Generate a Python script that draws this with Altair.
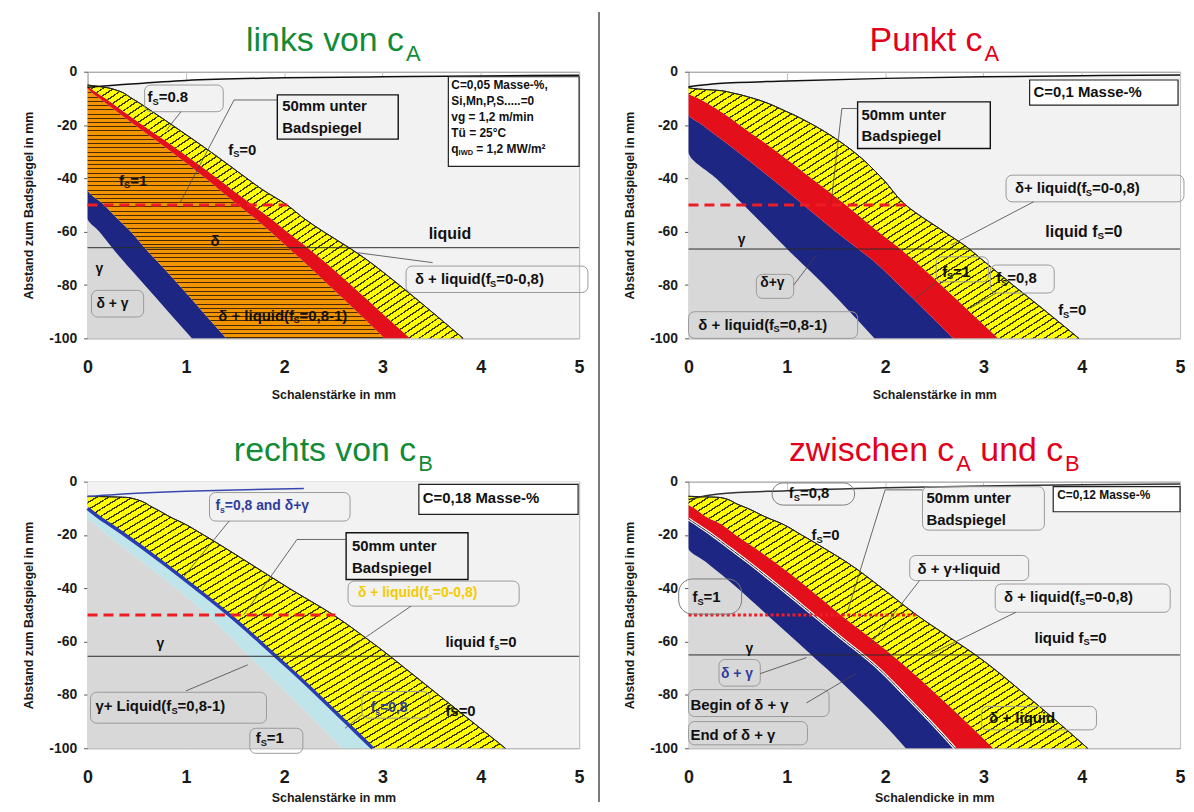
import altair as alt
import pandas as pd

FONT = "Liberation Sans"
PW, PH = 494, 268
XPU = PW / 5.0
YPU = PH / 100.0

# ---------------- data ----------------
TOP_X = [0, 0.3, 1, 2, 3, 4, 5]

# Panel 1 : links von cA  (C=0,05 %)
P1_DEPTH = [-5, -6, -7, -10, -15, -20, -30, -40, -44, -50, -55, -60, -66, -70, -80, -90, -100]
P1_GAMMA = [0, 0, 0, 0, 0, 0, 0, 0, 0, 0, 0, 0.12, 0.25, 0.34, 0.58, 0.82, 1.06]
P1_BLUE = [0, 0, 0, 0, 0, 0, 0, 0, 0, 0.17, 0.30, 0.44, 0.58, 0.68, 0.93, 1.17, 1.41]
P1_ORANGE = [0, 0, 0.02, 0.12, 0.30, 0.48, 0.85, 1.20, 1.33, 1.53, 1.70, 1.86, 2.04, 2.16, 2.45, 2.74, 3.02]
P1_RED = [0, 0.02, 0.06, 0.18, 0.37, 0.56, 0.95, 1.32, 1.46, 1.68, 1.86, 2.03, 2.24, 2.37, 2.68, 2.98, 3.28]
P1_YELLOW = [0, 0.20, 0.30, 0.45, 0.66, 0.86, 1.25, 1.62, 1.77, 2.03, 2.20, 2.40, 2.66, 2.82, 3.17, 3.50, 3.82]
P1_TOP = [-5.8, -5.0, -3.3, -2.3, -1.9, -1.6, -1.3]

# Panel 2 : Punkt cA (C=0,1 %)
P2_DEPTH = [-6, -6.5, -7, -8, -10, -15, -16, -20, -30, -40, -50, -60, -66, -70, -80, -90, -100]
P2_GAMMA = [0, 0, 0, 0, 0, 0, 0, 0, 0, 0.28, 0.56, 0.83, 0.99, 1.10, 1.38, 1.64, 1.89]
P2_BLUE = [0, 0, 0, 0, 0, 0, 0, 0.14, 0.50, 0.84, 1.17, 1.50, 1.71, 1.85, 2.14, 2.42, 2.69]
P2_RED = [0, 0, 0, 0, 0.10, 0.33, 0.37, 0.52, 0.90, 1.25, 1.60, 1.93, 2.14, 2.27, 2.57, 2.86, 3.15]
P2_YELLOW = [0, 0.10, 0.30, 0.45, 0.66, 1.00, 1.06, 1.27, 1.68, 1.97, 2.21, 2.60, 2.84, 2.97, 3.30, 3.64, 3.97]
P2_TOP = [-5.6, -4.4, -3.5, -2.5, -1.9, -1.5, -1.25]

# Panel 3 : rechts von cB (C=0,18 %)
P3_DEPTH = [-5.5, -6, -10, -14, -15, -20, -30, -40, -50, -60, -65, -70, -80, -90, -100]
P3_GAMMA = [0, 0, 0, 0, 0.04, 0.20, 0.55, 0.90, 1.22, 1.50, 1.63, 1.77, 2.05, 2.32, 2.59]
P3_BLUE = [0, 0, 0, 0.14, 0.18, 0.38, 0.75, 1.10, 1.44, 1.75, 1.90, 2.05, 2.34, 2.62, 2.90]
P3_YELLOW = [0, 0.42, 0.68, 0.88, 0.94, 1.18, 1.62, 2.05, 2.50, 2.88, 3.06, 3.23, 3.57, 3.91, 4.25]
P3_TOP_X = [0, 0.5, 1, 1.5, 2.2]
P3_TOP = [-5.6, -4.4, -3.6, -3.1, -2.6]

# Panel 4 : zwischen cA und cB (C=0,12 %)
P4_DEPTH = [-5.5, -6, -8.5, -10, -14, -15, -20, -25, -30, -40, -50, -60, -65, -70, -80, -90, -100]
P4_GAMMA = [0, 0, 0, 0, 0, 0, 0, 0, 0.17, 0.50, 0.80, 1.10, 1.25, 1.40, 1.69, 1.96, 2.21]
P4_BLUE = [0, 0, 0, 0, 0, 0.04, 0.24, 0.42, 0.60, 0.94, 1.27, 1.60, 1.77, 1.93, 2.20, 2.46, 2.71]
P4_RED = [0, 0, 0, 0.06, 0.22, 0.28, 0.48, 0.68, 0.87, 1.22, 1.55, 1.90, 2.07, 2.23, 2.53, 2.82, 3.10]
P4_YELLOW = [0, 0.33, 0.50, 0.60, 0.83, 0.90, 1.15, 1.38, 1.60, 1.97, 2.32, 2.72, 2.92, 3.10, 3.43, 3.75, 4.06]
P4_TOP = [-6.7, -4.6, -3.4, -2.3, -1.6, -1.2, -0.9]

HLINE = [-66, -66.5, -65.5, -65]          # horizontal reference line
MARK_END = [2.03, 2.21, 2.52, 2.31]       # end of the 50 mm marker line

K = "#111111"
BLUE_TXT = "#2e3c9e"
YEL_TXT = "#f2cc00"

# labels: (x, y, text, size, color)
P1_LABELS = [
    (0.61, -9.5, "f_S=0.8", 15, K), (1.98, -13.0, "50mm unter", 15, K), (1.98, -21.2, "Badspiegel", 15, K),
    (3.70, -5.0, "C=0,05 Masse-%,", 12, K), (3.70, -11.0, "Si,Mn,P,S.....=0", 12, K),
    (3.70, -17.0, "vg = 1,2 m/min", 12, K), (3.70, -23.0, "Tü = 25°C", 12, K),
    (3.70, -29.0, "q_{IWD} = 1,2 MW/m²", 12, K), (1.43, -29.3, "f_S=0", 15, K), (0.32, -41.0, "f_S=1", 15, K),
    (3.47, -61.0, "liquid", 16, K), (1.25, -63.5, "δ", 15, K), (0.08, -74.0, "γ", 14, K),
    (0.09, -87.0, "δ + γ", 14, K), (1.33, -91.5, "δ + liquid(f_S=0,8-1)", 15, K),
    (3.33, -77.8, "δ + liquid(f_S=0-0,8)", 15, K),
]
P1_BOXES = [
    (0.58, 1.38, -5.0, -15.0, "round"), (1.93, 3.16, -8.7, -25.3, "square"), (3.67, 5.0, -1.9, -35.5, "info"),
    (0.04, 0.57, -82.0, -92.0, "round"), (3.24, 5.09, -72.9, -82.8, "round"),
]
P1_LEADERS = [(1.93, -10.6, 1.49, -10.6), (1.49, -10.6, 0.94, -49.2), (3.51, -71.6, 2.75, -67.9),
              (0.95, -15.0, 0.80, -22.0)]

P2_LABELS = [
    (3.51, -7.5, "C=0,1 Masse-%", 15, K), (1.76, -16.3, "50mm unter", 15, K), (1.76, -24.1, "Badspiegel", 15, K),
    (3.32, -43.8, "δ+ liquid(f_S=0-0,8)", 15, K), (3.63, -60.0, "liquid f_S=0", 16, K), (0.50, -63.0, "γ", 14, K),
    (2.58, -75.0, "f_S=1", 15, K), (3.13, -77.5, "f_S=0,8", 15, K), (3.76, -89.4, "f_S=0", 15, K),
    (0.73, -79.4, "δ+γ", 14, K), (0.10, -95.0, "δ + liquid(f_S=0,8-1)", 15, K),
]
P2_BOXES = [
    (3.47, 4.98, -3.1, -12.5, "info"), (1.72, 3.07, -11.3, -28.8, "square"), (3.23, 5.04, -38.8, -48.8, "round"),
    (2.52, 3.05, -69.4, -78.8, "round"), (3.07, 3.72, -72.5, -83.0, "round"), (0.69, 1.07, -76.0, -85.0, "round"),
    (0.0, 1.72, -90.0, -100.0, "round"),
]
P2_LEADERS = [(1.72, -13.8, 1.56, -13.8), (1.56, -13.8, 1.45, -49.4), (3.51, -48.8, 2.67, -65.0),
              (2.52, -78.8, 2.29, -85.6), (3.13, -83.0, 2.86, -88.8), (1.07, -80.0, 1.30, -68.8)]

P3_LABELS = [
    (3.41, -6.0, "C=0,18 Masse-%", 15, K), (1.30, -9.1, "f_s=0,8 and δ+γ", 14, BLUE_TXT),
    (2.69, -24.2, "50mm unter", 15, K), (2.69, -32.3, "Badspiegel", 15, K),
    (2.75, -41.7, "δ + liquid(f_s=0-0,8)", 14, YEL_TXT), (3.64, -60.2, "liquid f_s=0", 15, K),
    (0.70, -61.0, "γ", 14, K), (0.08, -84.3, "γ+ Liquid(f_S=0,8-1)", 15, K), (1.71, -96.2, "f_S=1", 15, K),
    (2.88, -84.9, "f_s=0,8", 14, BLUE_TXT), (3.64, -86.2, "fs=0", 15, K),
]
P3_BOXES = [
    (3.37, 4.99, -1.0, -12.3, "info"), (1.24, 2.67, -4.1, -14.8, "round"), (2.63, 3.87, -19.2, -36.7, "square"),
    (2.65, 4.39, -37.3, -46.7, "round"), (0.03, 1.82, -79.0, -90.6, "round"), (1.65, 2.19, -92.5, -101.9, "round"),
    (2.79, 3.48, -78.7, -88.7, "round"),
]
P3_LEADERS = [(1.44, -14.8, 0.97, -36.0), (2.63, -21.7, 2.13, -21.7), (2.13, -21.7, 1.59, -49.9),
              (3.29, -46.7, 2.56, -65.2), (1.00, -78.5, 1.63, -68.7), (2.79, -87.5, 2.62, -92.5)]

P4_LABELS = [
    (1.02, -4.4, "f_S=0,8", 15, K), (1.25, -20.1, "f_S=0", 15, K), (2.42, -6.3, "50mm unter", 15, K),
    (2.42, -14.5, "Badspiegel", 15, K), (3.75, -5.0, "C=0,12 Masse-%", 12, K),
    (2.33, -32.7, "δ + γ+liquid", 15, K), (3.21, -43.4, "δ + liquid(f_S=0-0,8)", 15, K),
    (3.52, -58.5, "liquid f_S=0", 15, K), (0.04, -43.4, "f_S=1", 15, K), (0.58, -62.9, "γ", 14, K),
    (0.33, -72.3, "δ + γ", 14, BLUE_TXT), (0.02, -83.6, "Begin of δ + γ", 15, K),
    (0.02, -95.0, "End of δ + γ", 15, K), (3.06, -88.7, "δ + liquid", 15, K),
]
P4_BOXES = [
    (0.85, 1.69, -0.5, -8.8, "oval"), (2.38, 3.62, -1.9, -18.2, "round"), (3.71, 5.0, -1.9, -11.3, "info"),
    (2.25, 3.46, -27.7, -37.1, "round"), (3.12, 4.90, -38.4, -49.0, "round"), (-0.10, 0.54, -36.5, -49.7, "oval"),
    (0.31, 0.73, -66.7, -76.7, "round"), (0.0, 1.43, -78.0, -88.1, "round"), (0.0, 1.21, -90.0, -98.7, "round"),
    (2.98, 4.15, -84.3, -93.1, "round"),
]
P4_LEADERS = [(2.38, -3.1, 2.00, -3.1), (2.00, -3.1, 1.62, -48.4), (2.35, -37.1, 1.85, -61.0),
              (3.33, -49.0, 2.46, -64.7), (0.73, -72.0, 1.20, -66.0), (1.20, -83.0, 1.70, -72.0)]

TITLES = [
    ([("links von c", False), ("A", True)], "#138a36"),
    ([("Punkt c", False), ("A", True)], "#e2001a"),
    ([("rechts von c", False), ("B", True)], "#138a36"),
    ([("zwischen c", False), ("A", True), (" und c", False), ("B", True)], "#e2001a"),
]

# ---------------- styling helpers ----------------
YEL = "#ffff00"
RED = "#e3101b"
BLU = "#1d2683"
ORA = "#f29400"
GRY = "#d8d8d8"
CYA = "#bfe5eb"
LIQ = "#f2f2f2"

BW = {' ': 278, '%': 889, '(': 333, ')': 333, '+': 584, ',': 278, '-': 333, '.': 278, '/': 278, '=': 584,
      '°': 400, '²': 333, 'A': 722, 'B': 722, 'C': 722, 'D': 722, 'E': 667, 'I': 278, 'L': 611, 'M': 833,
      'N': 722, 'P': 667, 'S': 667, 'T': 611, 'W': 944, 'a': 556, 'b': 611, 'c': 556, 'd': 611, 'e': 556,
      'f': 333, 'g': 611, 'h': 611, 'i': 278, 'k': 556, 'l': 278, 'm': 889, 'n': 611, 'o': 611, 'p': 611,
      'q': 611, 'r': 389, 's': 556, 't': 333, 'u': 611, 'v': 556, 'w': 778, 'z': 500, 'ü': 611, 'ä': 556,
      'δ': 560, 'γ': 560}
RW = {' ': 278, 'A': 667, 'B': 667, 'P': 667, 'c': 500, 'd': 556, 'e': 556, 'h': 556, 'i': 222, 'k': 500,
      'l': 222, 'n': 556, 'o': 556, 'r': 333, 's': 500, 't': 278, 'u': 556, 'v': 500, 'w': 722, 'z': 500}


def text_w(s, size, bold=True):
    tbl = BW if bold else RW
    return sum(tbl.get(ch, 556) for ch in s) / 1000.0 * size


def segs(s):
    out, buf, i = [], "", 0
    while i < len(s):
        if s[i] == "_":
            if buf:
                out.append((buf, False))
                buf = ""
            if s[i + 1] == "{":
                j = s.index("}", i)
                out.append((s[i + 2:j], True))
                i = j + 1
            else:
                out.append((s[i + 1], True))
                i += 2
        else:
            buf += s[i]
            i += 1
    if buf:
        out.append((buf, False))
    return out


def label_rows(labels):
    rows = []
    for x, y, text, size, color in labels:
        cx = 0.0
        for seg, sub in segs(text):
            fs = size * 0.62 if sub else size
            dy = size * 0.3 if sub else 0
            lead = len(seg) - len(seg.lstrip(" "))
            rows.append(dict(x=x + (cx + lead * 0.278 * fs) / XPU, y=y - dy / YPU,
                             t=seg.lstrip(" "), s=fs, c=color))
            cx += text_w(seg, fs)
    return pd.DataFrame(rows)


def stripes(c1, c2, n, frac, x2, y2):
    stops = []
    for i in range(n):
        a, b, c = i / n, (i + 1 - frac) / n, (i + 1) / n
        stops += [alt.GradientStop(color=c1, offset=a), alt.GradientStop(color=c1, offset=b),
                  alt.GradientStop(color=c2, offset=b), alt.GradientStop(color=c2, offset=c)]
    return alt.LinearGradient(gradient="linear", stops=stops, x1=0, y1=0, x2=x2, y2=y2)


YEL_FILL = stripes(YEL, "#3a3a00", 70, 0.22, 1, 1)
ORA_FILL = stripes(ORA, "#4a2a00", 60, 0.25, 0, 1)

XS = alt.Scale(domain=[0, 5], nice=False, zero=False)
YS = alt.Scale(domain=[-100, 0], nice=False, zero=False)
ONE = pd.DataFrame({"k": [0]})


def axes(xtitle, bottom):
    xa = alt.Axis(values=[0, 1, 2, 3, 4, 5], format="d", title=xtitle, grid=True, gridColor="#c4c4c4",
                  domain=False, ticks=True, tickSize=0, labelFont=FONT, labelFontSize=18,
                  labelFontWeight="bold", labelColor="#1a1a1a", labelPadding=20, labelFlush=False,
                  labelOverlap=False, titleFont=FONT, titleFontSize=12.5, titleFontWeight="bold",
                  titleColor="#1a1a1a", titleX=PW / 2, titleY=(50 if bottom else 56), titleAlign="center",
                  titleBaseline="middle")
    ya = alt.Axis(values=[0, -20, -40, -60, -80, -100],
                  labelExpr="datum.value < 0 ? '-' + format(-datum.value, 'd') : '0'",
                  title="Abstand zum Badspiegel in mm", grid=False, domain=False, tickSize=4,
                  tickColor="#555555", labelFont=FONT, labelFontSize=14, labelFontWeight="bold",
                  labelColor="#1a1a1a", labelPadding=7, labelOverlap=False, titleFont=FONT,
                  titleFontSize=12.5, titleFontWeight="bold", titleColor="#1a1a1a", titleAngle=270,
                  titleX=-59, titleY=PH / 2, titleAlign="center", titleBaseline="middle")
    return xa, ya


def panel(P):
    xa, ya = axes(P["xtitle"], P["bottom"])

    def X(f):
        return alt.X(f, type="quantitative", scale=XS, axis=xa)

    def Y(f):
        return alt.Y(f, type="quantitative", scale=YS, axis=ya)

    n = len(P["depth"])
    ddf = pd.DataFrame({"d": P["depth"], "zero": [0.0] * n, **P["bounds"]})
    layers = []
    liq = pd.DataFrame({"x": P["liq_x"], "y": P["liq_y"], "b": [-100] * len(P["liq_x"])})
    layers.append(alt.Chart(liq).mark_area(orient="vertical", interpolate="monotone", fill=LIQ)
                  .encode(x=X("x"), y=Y("y"), y2=alt.Y2("b")))
    for lo, hi, fill in P["bands"]:
        layers.append(alt.Chart(ddf).mark_area(orient="horizontal", interpolate="monotone", fill=fill)
                      .encode(y=Y("d"), x=X(lo), x2=alt.X2(hi)))
    for f, col, w, dash in P["edges"]:
        vals = P["bounds"][f]
        start = max(i for i, v in enumerate(vals) if v == 0)
        sub = ddf.iloc[start:]
        mk = dict(orient="horizontal", interpolate="monotone", fillOpacity=0, stroke=col, strokeWidth=w)
        if dash:
            mk["strokeDash"] = dash
        layers.append(alt.Chart(sub).mark_area(**mk).encode(y=Y("d"), x=X(f), x2=alt.X2(f)))
    top = pd.DataFrame({"x": P["top_x"], "y": P["top_y"]})
    layers.append(alt.Chart(top).mark_line(interpolate="monotone", stroke=P["top_col"], strokeWidth=1.5)
                  .encode(x=X("x"), y=Y("y")))
    hl = pd.DataFrame({"x0": [0], "x1": [5], "y": [P["hline"]]})
    layers.append(alt.Chart(hl).mark_rule(stroke="#2a2a2a", strokeWidth=1)
                  .encode(x=X("x0"), x2=alt.X2("x1"), y=Y("y")))
    mk = pd.DataFrame({"x0": [0], "x1": [P["mark_end"]], "y": [-50]})
    layers.append(alt.Chart(mk).mark_rule(stroke="#ee1c24", strokeWidth=3, strokeDash=P["mark_dash"])
                  .encode(x=X("x0"), x2=alt.X2("x1"), y=Y("y")))
    bdf = pd.DataFrame(P["boxes"], columns=["x1", "x2", "y1", "y2", "kind"])
    styles = {
        "round": dict(fillOpacity=0, stroke="#9a9a9a", strokeWidth=1, cornerRadius=6),
        "oval": dict(fillOpacity=0, stroke="#7a7a7a", strokeWidth=1, cornerRadius=14),
        "square": dict(fillOpacity=0, stroke="#111111", strokeWidth=1.4),
        "info": dict(fill="#ffffff", stroke="#222222", strokeWidth=1.2),
    }
    for kind, st in styles.items():
        part = bdf[bdf.kind == kind]
        if len(part):
            layers.append(alt.Chart(part).mark_rect(**st)
                          .encode(x=X("x1"), x2=alt.X2("x2"), y=Y("y1"), y2=alt.Y2("y2")))
    ldf = pd.DataFrame(P["leaders"], columns=["xa", "ya", "xb", "yb"])
    layers.append(alt.Chart(ldf).mark_rule(stroke="#444444", strokeWidth=0.8)
                  .encode(x=X("xa"), y=Y("ya"), x2=alt.X2("xb"), y2=alt.Y2("yb")))
    tdf = label_rows(P["labels"])
    layers.append(alt.Chart(tdf).mark_text(align="left", baseline="middle", font=FONT, fontWeight="bold")
                  .encode(x=X("x"), y=Y("y"), text="t:N", size=alt.Size("s:Q", scale=None),
                          color=alt.Color("c:N", scale=None)))
    # title
    parts, tcol = P["title"]
    items, total = [], 0.0
    for s, sub in parts:
        fs = 22 if sub else 34
        gap = 2 if sub else 0
        lead = len(s) - len(s.lstrip(" "))
        w = text_w(s, fs, bold=False) + gap
        items.append((s.lstrip(" "), fs, sub, lead * 0.278 * fs + gap, w))
        total += w
    x = PW / 2 - total / 2
    for s, fs, sub, off, w in items:
        layers.append(alt.Chart(ONE).mark_text(text=s, font=FONT, fontSize=fs, color=tcol, align="left",
                                               baseline="alphabetic")
                      .encode(x=alt.value(x + off), y=alt.value(-11 if sub else -21)))
        x += w
    if P.get("divider"):
        layers.append(alt.Chart(ONE).mark_rule(stroke="#7a7a7a", strokeWidth=2)
                      .encode(x=alt.value(514), x2=alt.value(514), y=alt.value(-60), y2=alt.value(734)))
        layers.append(alt.Chart(ONE).mark_rule(stroke="#ffffff", strokeWidth=1)
                      .encode(x=alt.value(-79), x2=alt.value(-79), y=alt.value(-60), y2=alt.value(-59)))
    return alt.layer(*layers).properties(width=PW, height=PH)


PANELS = [
    dict(depth=P1_DEPTH, bounds={"g": P1_GAMMA, "b": P1_BLUE, "o": P1_ORANGE, "r": P1_RED, "yl": P1_YELLOW},
         bands=[("zero", "g", GRY), ("g", "b", BLU), ("b", "o", ORA_FILL), ("o", "r", RED), ("r", "yl", YEL_FILL)],
         edges=[("yl", "#222222", 1, None)], liq_x=TOP_X, liq_y=P1_TOP, top_x=TOP_X, top_y=P1_TOP,
         top_col="#111111", hline=HLINE[0], mark_end=MARK_END[0], mark_dash=[10, 6],
         boxes=P1_BOXES, leaders=P1_LEADERS, labels=P1_LABELS, title=TITLES[0],
         xtitle="Schalenstärke in mm", bottom=False, divider=True),
    dict(depth=P2_DEPTH, bounds={"g": P2_GAMMA, "b": P2_BLUE, "r": P2_RED, "yl": P2_YELLOW},
         bands=[("zero", "g", GRY), ("g", "b", BLU), ("b", "r", RED), ("r", "yl", YEL_FILL)],
         edges=[("yl", "#222222", 1, None)], liq_x=TOP_X, liq_y=P2_TOP, top_x=TOP_X, top_y=P2_TOP,
         top_col="#111111", hline=HLINE[1], mark_end=MARK_END[1], mark_dash=[10, 6],
         boxes=P2_BOXES, leaders=P2_LEADERS, labels=P2_LABELS, title=TITLES[1],
         xtitle="Schalenstärke in mm", bottom=False),
    dict(depth=P3_DEPTH, bounds={"g": P3_GAMMA, "b": P3_BLUE, "yl": P3_YELLOW},
         bands=[("zero", "g", GRY), ("g", "b", CYA), ("b", "yl", YEL_FILL)],
         edges=[("yl", "#222222", 1, None), ("b", "#2a3cb4", 3.5, None)], liq_x=[0, 5], liq_y=[0, 0],
         top_x=P3_TOP_X, top_y=P3_TOP, top_col="#3a46b0", hline=HLINE[2], mark_end=MARK_END[2],
         mark_dash=[10, 6], boxes=P3_BOXES, leaders=P3_LEADERS, labels=P3_LABELS, title=TITLES[2],
         xtitle="Schalenstärke in mm", bottom=True),
    dict(depth=P4_DEPTH, bounds={"g": P4_GAMMA, "b": P4_BLUE, "r": P4_RED, "yl": P4_YELLOW},
         bands=[("zero", "g", GRY), ("g", "b", BLU), ("b", "r", RED), ("r", "yl", YEL_FILL)],
         edges=[("yl", "#222222", 1, None), ("b", "#ffffff", 3, None), ("b", "#222222", 1, [3, 3])],
         liq_x=TOP_X, liq_y=P4_TOP, top_x=TOP_X, top_y=P4_TOP, top_col="#333333", hline=HLINE[3],
         mark_end=MARK_END[3], mark_dash=[3, 2.5], boxes=P4_BOXES, leaders=P4_LEADERS, labels=P4_LABELS,
         title=TITLES[3], xtitle="Schalendicke in mm", bottom=True),
]

chart = alt.concat(*[panel(P) for P in PANELS], columns=2, spacing={"row": 144, "column": 110},
                   bounds="flush").properties(padding=0).configure_view(stroke="#8a8a8a", strokeWidth=1)

chart.save("out.html", embed_options={"renderer": "svg", "actions": False})
